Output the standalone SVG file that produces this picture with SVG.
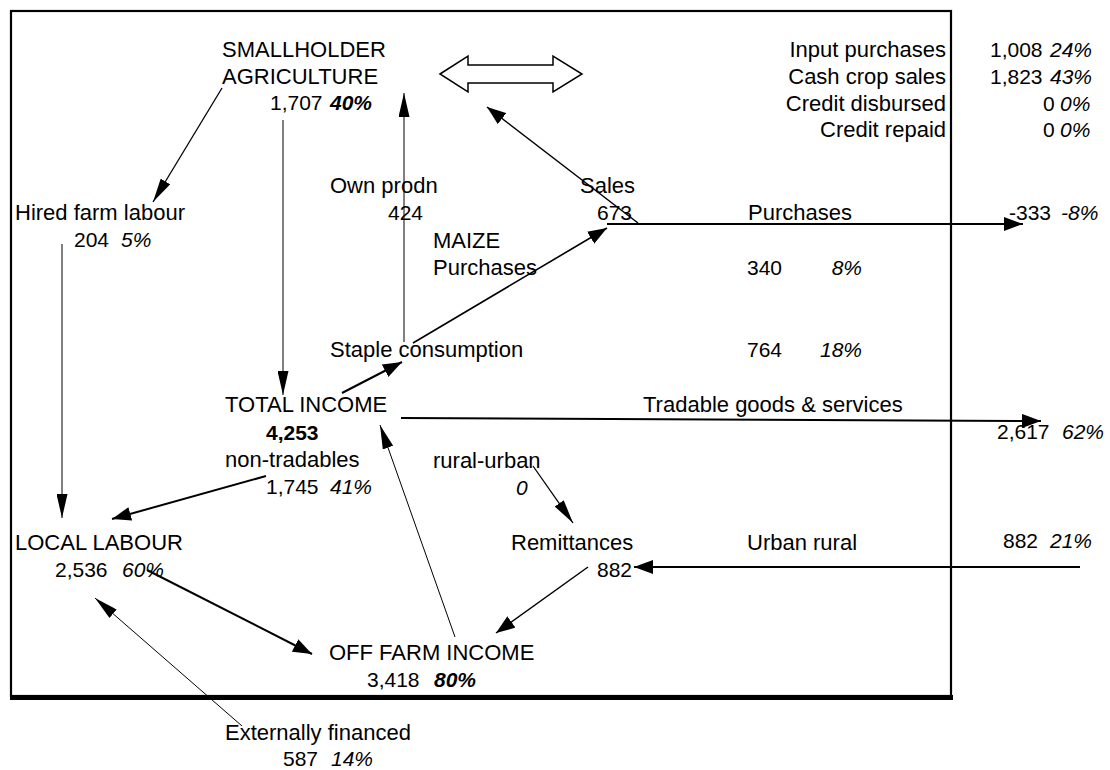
<svg xmlns="http://www.w3.org/2000/svg" width="1110" height="770" viewBox="0 0 1110 770">
<style>
text{font-family:"Liberation Sans",Arial,sans-serif;font-size:22px;fill:#000}
.n{font-size:21px}
.i{font-style:italic}
.bi{font-weight:bold;font-style:italic}
.b{font-weight:bold}
.e{text-anchor:end}
.c{stroke:#000;fill:none}
</style>
<defs>
<marker id="ha" viewBox="0 0 19 14" refX="19" refY="7" markerWidth="19" markerHeight="14" markerUnits="userSpaceOnUse" orient="auto"><path d="M0,0 L19,7 L0,14 z" fill="#000"/></marker>
<marker id="hb" viewBox="0 0 24 11" refX="24" refY="5.5" markerWidth="24" markerHeight="11" markerUnits="userSpaceOnUse" orient="auto"><path d="M0,0 L24,5.5 L0,11 z" fill="#000"/></marker>
</defs>
<rect width="1110" height="770" fill="#fff"/>
<g id="frame">
<rect x="11" y="11" width="940" height="685" fill="none" stroke="#000" stroke-width="2.2"/>
<rect x="10" y="695" width="943" height="5" fill="#000"/>
</g>
<g id="connectors">
<polygon points="440,74 468,56 468,65 553,65 553,56 582,74 553,92 553,83 468,83 468,92" fill="#fff" stroke="#000" stroke-width="1.5"/>
<line class="c" x1="222" y1="88" x2="153" y2="202" stroke-width="1.3" marker-end="url(#hb)"/>
<line class="c" x1="62" y1="244" x2="62" y2="518" stroke-width="1" marker-end="url(#hb)"/>
<line class="c" x1="283" y1="120" x2="283" y2="395" stroke-width="1" marker-end="url(#hb)"/>
<line class="c" x1="404" y1="342" x2="404" y2="93" stroke-width="1" marker-end="url(#hb)"/>
<line class="c" x1="638" y1="223" x2="487" y2="107" stroke-width="1.5" marker-end="url(#ha)"/>
<line class="c" x1="413" y1="343" x2="607" y2="228" stroke-width="1.6" marker-end="url(#ha)"/>
<line class="c" x1="607" y1="224" x2="1023" y2="224" stroke-width="2" marker-end="url(#ha)"/>
<line class="c" x1="342" y1="393" x2="402" y2="362" stroke-width="2" marker-end="url(#ha)"/>
<line class="c" x1="401" y1="418" x2="1041" y2="421" stroke-width="2" marker-end="url(#ha)"/>
<line class="c" x1="266" y1="476" x2="112" y2="519" stroke-width="2" marker-end="url(#ha)"/>
<line class="c" x1="455" y1="637" x2="380" y2="425" stroke-width="1" marker-end="url(#hb)"/>
<line class="c" x1="533" y1="466" x2="573" y2="523" stroke-width="1.3" marker-end="url(#hb)"/>
<line class="c" x1="1080" y1="567" x2="634" y2="567" stroke-width="2" marker-end="url(#ha)"/>
<line class="c" x1="588" y1="567" x2="496" y2="633" stroke-width="1.5" marker-end="url(#ha)"/>
<line class="c" x1="147" y1="570" x2="312" y2="654" stroke-width="2" marker-end="url(#ha)"/>
<line class="c" x1="242" y1="726" x2="95" y2="598" stroke-width="1" marker-end="url(#hb)"/>
</g>
<g id="smallholder">
<text x="222" y="57">SMALLHOLDER</text>
<text x="222" y="84">AGRICULTURE</text>
<text class="n" x="270" y="110">1,707<tspan class="bi" x="330">40%</tspan></text>
</g>
<g id="farm-flows">
<text class="e" x="946" y="57">Input purchases</text>
<text class="n" x="990" y="57">1,008<tspan class="i" x="1050">24%</tspan></text>
<text class="e" x="946" y="84">Cash crop sales</text>
<text class="n" x="990" y="84">1,823<tspan class="i" x="1050">43%</tspan></text>
<text class="e" x="946" y="111">Credit disbursed</text>
<text class="n" x="1043" y="111">0<tspan class="i" x="1060">0%</tspan></text>
<text class="e" x="946" y="137">Credit repaid</text>
<text class="n" x="1043" y="137">0<tspan class="i" x="1060">0%</tspan></text>
</g>
<g id="hired-labour">
<text x="15" y="220">Hired farm labour</text>
<text class="n" x="74" y="247">204<tspan class="i" x="121">5%</tspan></text>
</g>
<g id="maize">
<text x="330" y="193">Own prodn</text>
<text class="n" x="388" y="220">424</text>
<text x="580" y="193">Sales</text>
<text class="n" x="597" y="220">673</text>
<text x="748" y="220">Purchases</text>
<text class="n" x="1009" y="220">-333<tspan class="i" x="1061">-8%</tspan></text>
<text x="433" y="248">MAIZE</text>
<text x="433" y="275">Purchases</text>
<text class="n" x="747" y="275">340</text>
<text class="e i n" x="862" y="275">8%</text>
<text x="330" y="357">Staple consumption</text>
<text class="n" x="747" y="357">764</text>
<text class="e i n" x="862" y="357">18%</text>
</g>
<g id="total-income">
<text x="225" y="412">TOTAL INCOME</text>
<text class="b n" x="266" y="440">4,253</text>
<text x="225" y="467">non-tradables</text>
<text class="n" x="266" y="494">1,745<tspan class="i" x="330">41%</tspan></text>
</g>
<g id="tradables">
<text x="643" y="412">Tradable goods &amp; services</text>
<text class="n" x="997" y="439">2,617<tspan class="i" x="1062">62%</tspan></text>
</g>
<g id="remittances">
<text x="433" y="468">rural-urban</text>
<text class="i n" x="516" y="495">0</text>
<text x="511" y="550">Remittances</text>
<text class="n" x="597" y="577">882</text>
<text x="747" y="550">Urban rural</text>
<text class="n" x="1003" y="548">882<tspan class="i" x="1050">21%</tspan></text>
</g>
<g id="local-labour">
<text x="15" y="550">LOCAL LABOUR</text>
<text class="n" x="55" y="577">2,536<tspan class="i" x="122">60%</tspan></text>
</g>
<g id="off-farm">
<text x="329" y="660">OFF FARM INCOME</text>
<text class="n" x="367" y="687">3,418<tspan class="bi" x="434">80%</tspan></text>
</g>
<g id="external">
<text x="225" y="740">Externally financed</text>
<text class="n" x="283" y="766">587<tspan class="i" x="331">14%</tspan></text>
</g>
</svg>
